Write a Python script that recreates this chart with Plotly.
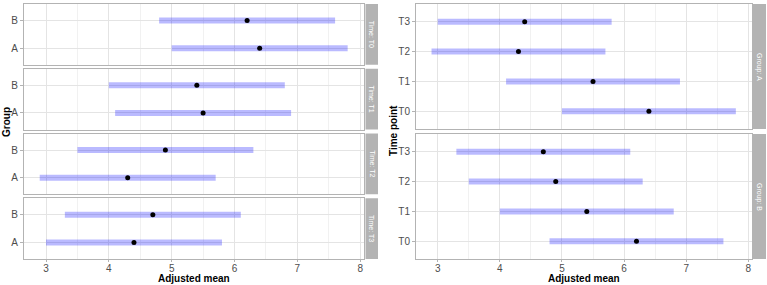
import plotly.graph_objects as go

times = ["T0", "T1", "T2", "T3"]
groups = ["A", "B"]
mean_A = [6.4, 5.5, 4.3, 4.4]
lower_A = [5.0, 4.1, 2.9, 3.0]
upper_A = [7.8, 6.9, 5.7, 5.8]
mean_B = [6.2, 5.4, 4.9, 4.7]
lower_B = [4.8, 4.0, 3.5, 3.3]
upper_B = [7.6, 6.8, 6.3, 6.1]
x_ticks = [3, 4, 5, 6, 7, 8]

W, H = 767, 285
BAR = "rgba(0,0,255,0.27)"
GRID = "#e4e4e4"
MINOR = "#f1f1f1"
BORDER = "#b3b3b3"
FONT = "Liberation Sans, Arial, sans-serif"

def px(x):
    return x / W

def py(y):
    return 1 - y / H

fig = go.Figure()
layout = {}

data = {"A": (mean_A, lower_A, upper_A), "B": (mean_B, lower_B, upper_B)}

def add_axes(idx, xd, yd, cats, show_x):
    xs = "xaxis" if idx == 1 else f"xaxis{idx}"
    ys = "yaxis" if idx == 1 else f"yaxis{idx}"
    layout[xs] = dict(domain=[px(xd[0]), px(xd[1])], range=[2.65, 8.06], anchor=f"y{idx if idx>1 else ''}",
                      tickvals=x_ticks, showticklabels=show_x, ticks="outside" if show_x else "",
                      ticklen=2, tickcolor=BORDER, ticklabelstandoff=-2,
                      showgrid=True, gridcolor=GRID, gridwidth=1,
                      minor=dict(dtick=0.5, tick0=0, showgrid=True, gridcolor=MINOR, gridwidth=1),
                      showline=True, mirror=True, linecolor=BORDER, linewidth=1, zeroline=False,
                      tickfont=dict(size=10, color="#4d4d4d", family=FONT))
    layout[ys] = dict(domain=[py(yd[1]), py(yd[0])], type="category", categoryorder="array",
                      categoryarray=cats, range=[-0.6, len(cats) - 0.4], anchor=f"x{idx if idx>1 else ''}",
                      showgrid=True, gridcolor=GRID, gridwidth=1, ticks="outside", ticklen=3, tickcolor=BORDER,
                      showline=True, mirror=True, linecolor=BORDER, linewidth=1, zeroline=False,
                      tickfont=dict(size=10, color="#4d4d4d", family=FONT))

def add_traces(idx, ys, lo, hi, mu):
    xr = f"x{idx if idx>1 else ''}"
    yr = f"y{idx if idx>1 else ''}"
    xl, yl = [], []
    for y, a, b in zip(ys, lo, hi):
        xl += [a, b, None]
        yl += [y, y, None]
    fig.add_trace(go.Scatter(x=xl, y=yl, mode="lines", line=dict(color=BAR, width=6),
                             xaxis=xr, yaxis=yr, showlegend=False, hoverinfo="skip"))
    fig.add_trace(go.Scatter(x=mu, y=ys, mode="markers", marker=dict(color="black", size=5),
                             xaxis=xr, yaxis=yr, showlegend=False))

shapes = []
annotations = []

def strip(x0, x1, y0, y1, text):
    shapes.append(dict(type="rect", xref="paper", yref="paper", x0=px(x0), x1=px(x1),
                       y0=py(y1), y1=py(y0), fillcolor="#b3b3b3", line=dict(width=0), layer="below"))
    annotations.append(dict(x=px((x0 + x1) / 2), y=py((y0 + y1) / 2), xref="paper", yref="paper",
                            xanchor="center", yanchor="middle",
                            text=text, textangle=90, showarrow=False,
                            font=dict(size=7, color="white", family=FONT)))

# Left panel: facets by time
left_x = (24, 364)
left_rows = [(4, 64.75), (68.75, 129.5), (133.5, 194.25), (198.25, 259)]
for i, t in enumerate(times):
    idx = i + 1
    add_axes(idx, left_x, left_rows[i], groups, show_x=(i == 3))
    mu = [data[g][0][i] for g in groups]
    lo = [data[g][1][i] for g in groups]
    hi = [data[g][2][i] for g in groups]
    add_traces(idx, groups, lo, hi, mu)
    strip(365.5, 378, left_rows[i][0], left_rows[i][1], f"Time: {t}")

# Right panel: facets by group
right_x = (416, 752)
right_rows = [(4, 129), (134, 259)]
for j, g in enumerate(groups):
    idx = 5 + j
    add_axes(idx, right_x, right_rows[j], times, show_x=(j == 1))
    mu, lo, hi = data[g]
    add_traces(idx, times, lo, hi, mu)
    strip(753, 766, right_rows[j][0], right_rows[j][1], f"Group: {g}")

title_font = dict(size=10, color="black", family=FONT)
common = dict(xref="paper", yref="paper", xanchor="center", yanchor="middle", showarrow=False, font=title_font)
annotations += [
    dict(x=px(194), y=py(278.5), text="<b>Adjusted mean</b>", **common),
    dict(x=px(584), y=py(278.5), text="<b>Adjusted mean</b>", **common),
    dict(x=px(6), y=py(122), text="<b>Group</b>", textangle=-90, **common),
    dict(x=px(393), y=py(131), text="<b>Time point</b>", textangle=-90, **common),
]

fig.update_layout(width=W, height=H, margin=dict(l=0, r=0, t=0, b=0), paper_bgcolor="white",
                  plot_bgcolor="white", shapes=shapes, annotations=annotations, **layout)
fig.write_html("out.html")
